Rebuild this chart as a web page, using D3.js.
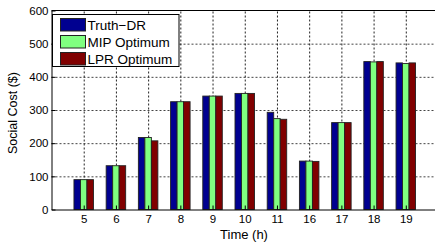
<!DOCTYPE html>
<html>
<head>
<meta charset="utf-8">
<script src="https://cdn.jsdelivr.net/npm/d3@7"></script>
<style>
  body { margin: 0; background: #fff; }
  svg text { font-family: "Liberation Sans", Arial, sans-serif; fill: #000; }
</style>
</head>
<body>
<svg id="canvas"></svg>
<script>
// Chart data.
var hours = ['5', '6', '7', '8', '9', '10', '11', '16', '17', '18', '19'];
var truthDR = [90, 132, 217, 325, 342, 350, 293, 146, 262, 446, 442];
var mipOptimum = [90, 132, 217, 325, 342, 350, 274, 146, 262, 445, 440];
var lprOptimum = [90, 132, 207, 325, 342, 350, 272, 145, 262, 446, 442];
var seriesNames = ['Truth\u2212DR', 'MIP Optimum', 'LPR Optimum'];
var yTicks = [0, 100, 200, 300, 400, 500, 600];

// Canvas properties.
var canvas = { width: 435, height: 245 };

// Plot area.
var plot = { left: 51.5, right: 438, top: 10.5, bottom: 209.5 };

var colours = ['#000090', '#80ff80', '#800000'];
var series = [truthDR, mipOptimum, lprOptimum];

var svg = d3.select('#canvas')
            .attr('width', canvas.width)
            .attr('height', canvas.height);

// Scales.
var xScale = d3.scaleLinear().domain([0, hours.length + 1]).range([plot.left, plot.right]);
var yScale = d3.scaleLinear().domain([0, 600]).range([plot.bottom, plot.top]);

var barWidth = 6.5;

// Dotted grid lines, drawn under the bars.
var hGrid = d3.axisLeft(yScale)
              .tickValues(yTicks.slice(1, -1))
              .tickSize(-(plot.right - plot.left))
              .tickFormat('');
svg.append('g')
   .attr('transform', 'translate(' + plot.left + ',0)')
   .call(hGrid)
   .call(function(g) { g.select('.domain').remove(); })
   .selectAll('line')
   .attr('stroke', '#444')
   .attr('stroke-dasharray', '2 2');

var vGrid = d3.axisBottom(xScale)
              .tickValues(d3.range(1, hours.length + 1))
              .tickSize(-(plot.bottom - plot.top))
              .tickFormat('');
svg.append('g')
   .attr('transform', 'translate(0,' + plot.bottom + ')')
   .call(vGrid)
   .call(function(g) { g.select('.domain').remove(); })
   .selectAll('line')
   .attr('stroke', '#222')
   .attr('stroke-dasharray', '2 2');

// Bars.
series.forEach(function(values, s) {
  svg.append('g')
     .selectAll('rect')
     .data(values)
     .enter()
     .append('rect')
     .attr('x', function(d, i) { return xScale(i + 1) + (s - 1.5) * barWidth; })
     .attr('width', barWidth)
     .attr('y', function(d) { return yScale(d); })
     .attr('height', function(d) { return yScale(0) - yScale(d); })
     .attr('fill', colours[s])
     .attr('stroke', '#222')
     .attr('stroke-width', 0.9);
});

// Axes.
var xAxis = d3.axisBottom(xScale)
              .tickValues(d3.range(1, hours.length + 1))
              .tickFormat(function(d) { return hours[d - 1]; })
              .tickSizeInner(-4).tickSizeOuter(0).tickPadding(5);
var gx = svg.append('g')
            .attr('transform', 'translate(0,' + plot.bottom + ')')
            .call(xAxis);
gx.selectAll('text').style('font-size', '11.5px');

var yAxis = d3.axisLeft(yScale)
              .tickValues(yTicks)
              .tickSizeInner(-4).tickSizeOuter(0).tickPadding(3);
var gy = svg.append('g')
            .attr('transform', 'translate(' + plot.left + ',0)')
            .call(yAxis);
gy.selectAll('text').style('font-size', '11.5px');

// Top frame.
svg.append('line')
   .attr('x1', plot.left).attr('x2', plot.right)
   .attr('y1', plot.top).attr('y2', plot.top)
   .attr('stroke', '#000');

// Axis titles.
svg.append('text')
   .attr('text-anchor', 'middle')
   .attr('transform', 'translate(244,239)')
   .style('font-size', '13px')
   .text('Time (h)');
svg.append('text')
   .attr('text-anchor', 'middle')
   .attr('transform', 'translate(17,113) rotate(-90)')
   .style('font-size', '12.5px')
   .text('Social Cost ($)');

// Legend.
var legend = svg.append('g').attr('transform', 'translate(52.5,14.5)');
legend.append('rect')
      .attr('width', 126.5).attr('height', 52)
      .attr('fill', '#fff').attr('stroke', '#000');
var rows = legend.selectAll('g.row')
                 .data(seriesNames)
                 .enter()
                 .append('g')
                 .attr('class', 'row')
                 .attr('transform', function(d, i) { return 'translate(8,' + (4 + i * 17) + ')'; });
rows.append('rect')
    .attr('width', 25).attr('height', 12.5)
    .attr('fill', function(d, i) { return colours[i]; })
    .attr('stroke', '#222');
rows.append('text')
    .attr('x', 27).attr('y', 11.5)
    .style('font-size', '13.5px')
    .text(function(d) { return d; });
</script>
</body>
</html>
